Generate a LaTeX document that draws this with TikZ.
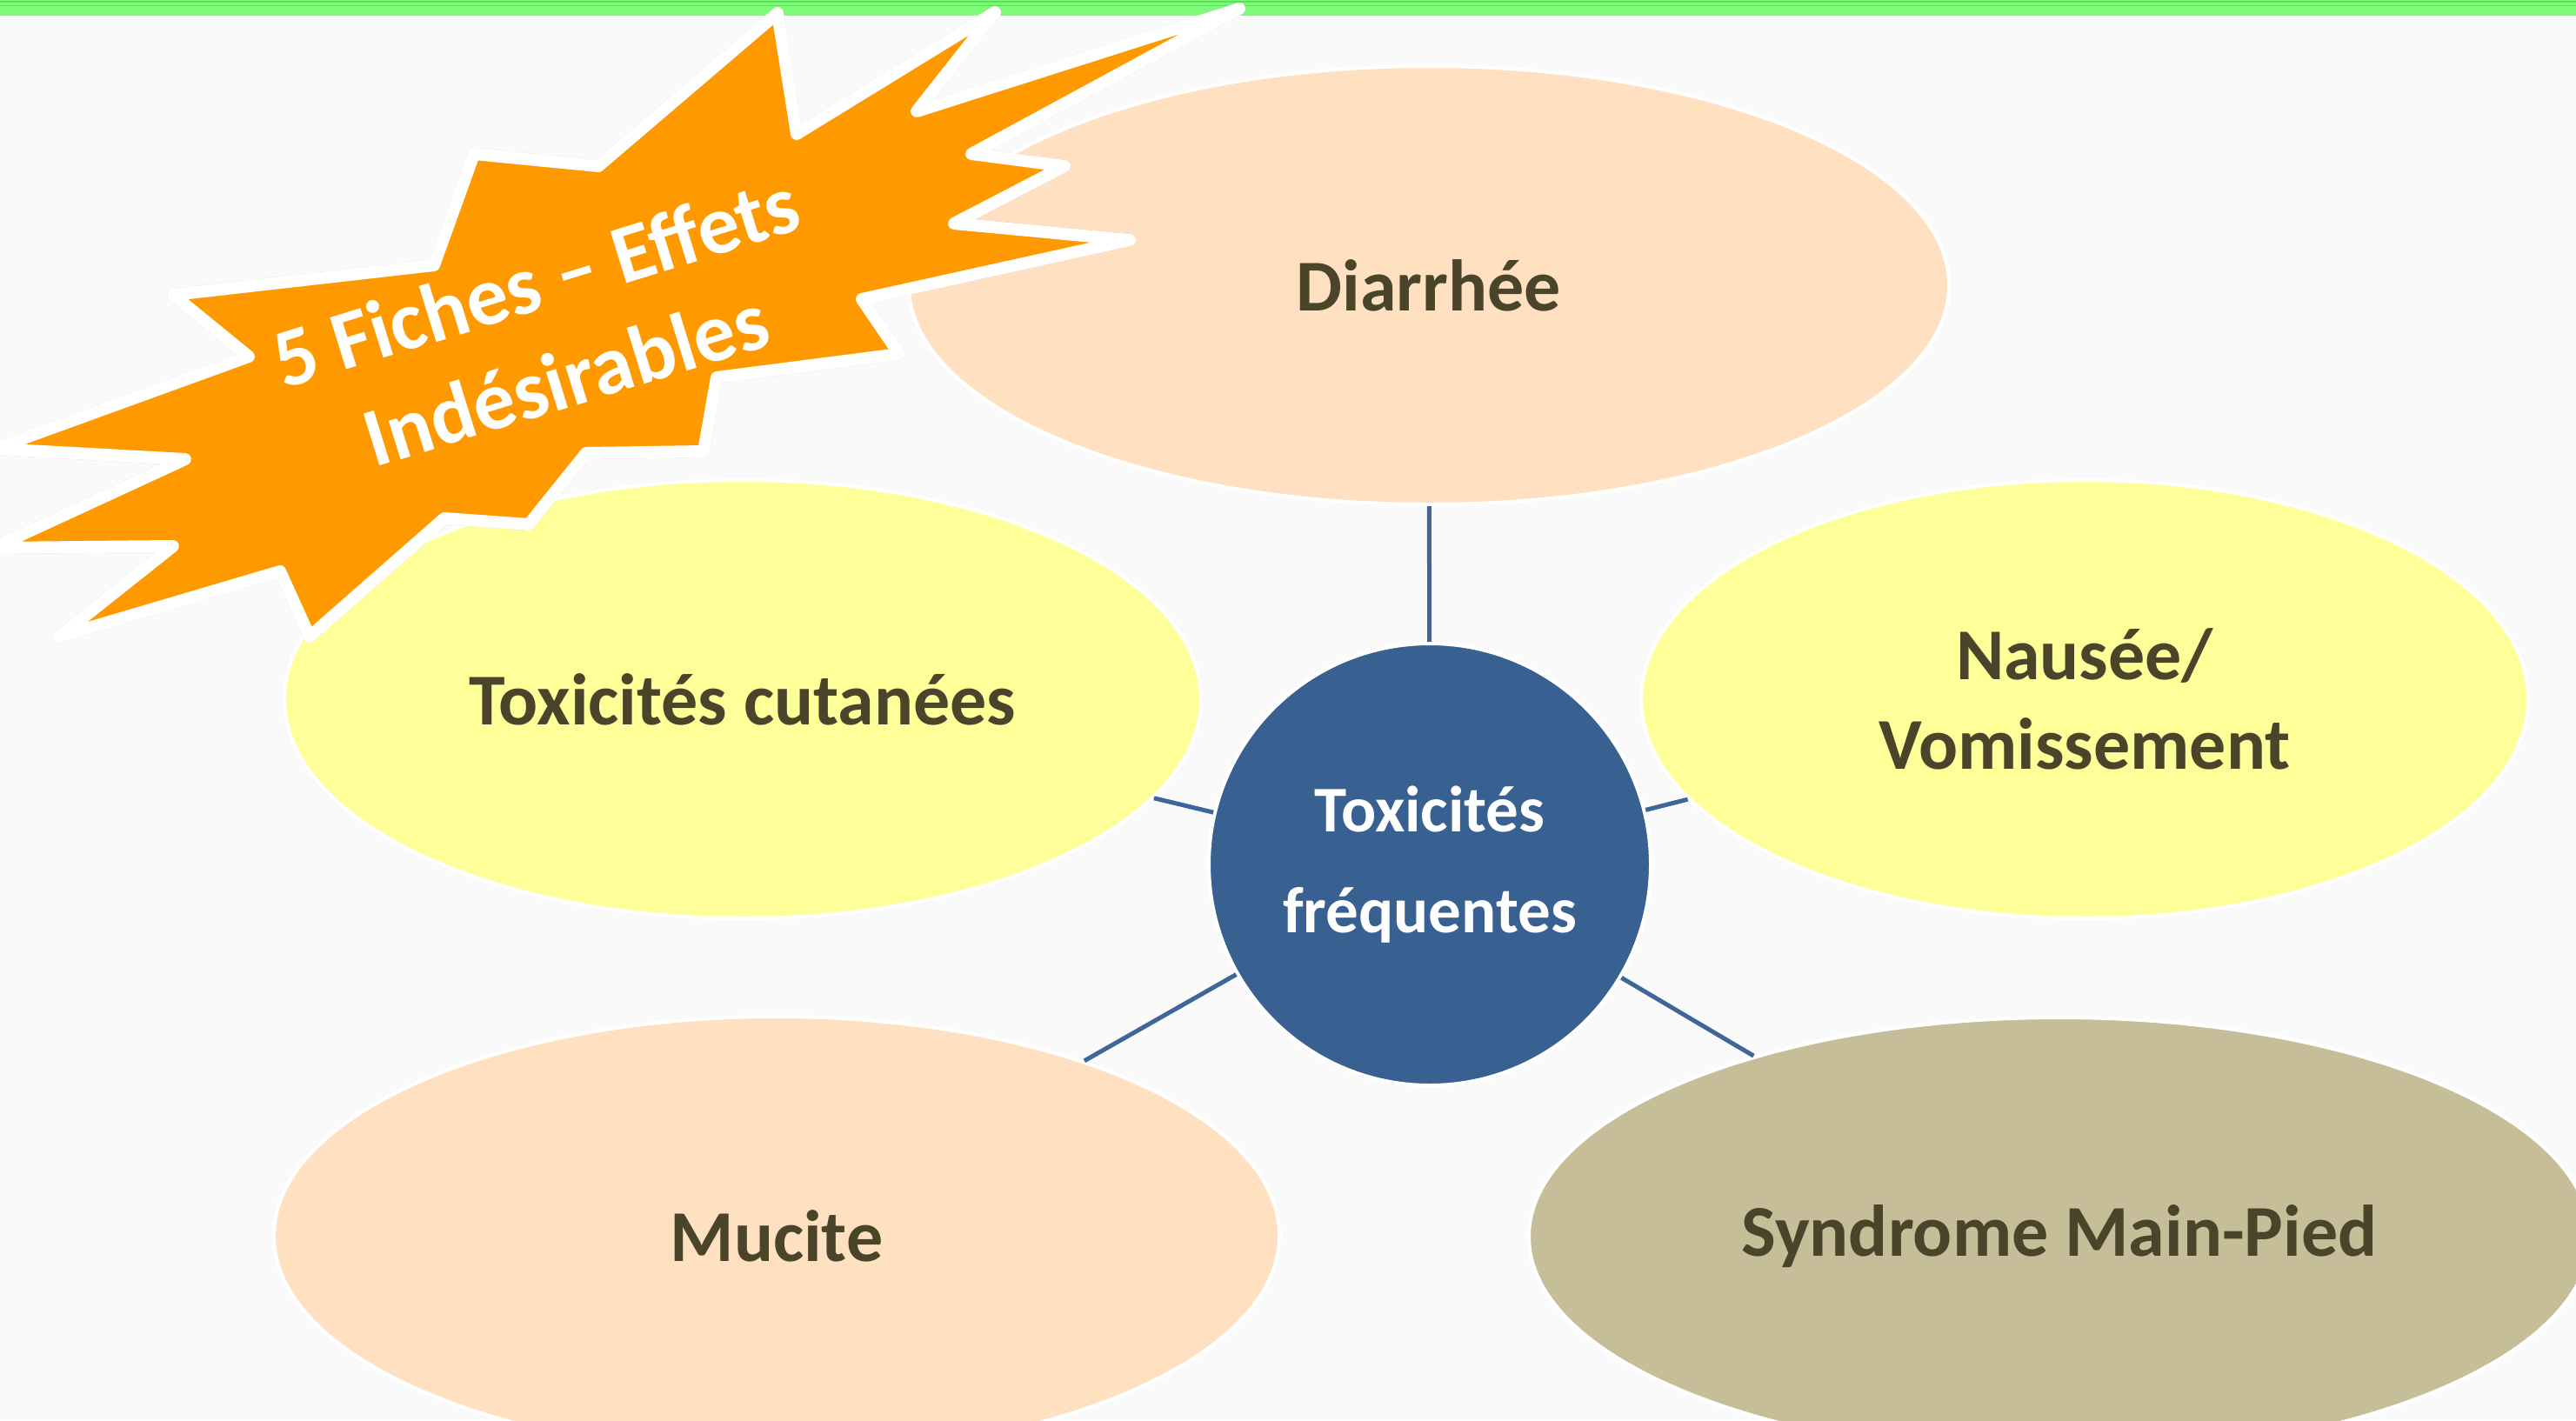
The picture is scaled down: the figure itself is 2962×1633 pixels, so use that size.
\documentclass[tikz,border=0pt]{standalone}
\usepackage{fontspec}
\setmainfont{Carlito}
\usetikzlibrary{shapes.geometric}
\definecolor{bgc}{RGB}{250,250,250}
\definecolor{barc}{RGB}{124,252,118}
\definecolor{barline}{RGB}{96,220,92}
\definecolor{peach}{RGB}{255,224,193}
\definecolor{paleyellow}{RGB}{255,255,153}
\definecolor{khaki}{RGB}{198,190,153}
\definecolor{hubblue}{RGB}{56,97,146}
\definecolor{linkblue}{RGB}{62,102,152}
\definecolor{labeltext}{RGB}{74,68,42}
\definecolor{burstorange}{RGB}{255,153,0}
\tikzset{
  leaf/.style={ellipse, draw=white, line width=4pt, inner sep=0pt, align=center,
    text=labeltext, font=\fontsize{84}{103}\selectfont\bfseries},
  hub/.style={circle, draw=white, line width=4pt, fill=hubblue, inner sep=0pt,
    minimum size=508pt, align=center, text=white,
    font=\fontsize{75}{116}\selectfont\bfseries},
  conn/.style={draw=linkblue, line width=5pt},
  burstshape/.style={insert path={(894,15) -- (916,154) -- (1144,14) -- (1054,128)
    -- (1425,10) -- (1117,177) -- (1224,191) -- (1097,257) -- (1299,276)
    -- (991,344) -- (1034,407) -- (824,434) -- (809,519) -- (674,521)
    -- (608,603) -- (511,596) -- (356,732) -- (322,657) -- (68,732)
    -- (199,628) -- (-8,630) -- (213,528) -- (-6,516) -- (286,410)
    -- (199,339) -- (499,305) -- (545,177) -- (688,191) -- cycle}},
  bursttext/.style={rotate=17.2, anchor=center, inner sep=0pt, text=white,
    align=center, font=\fontsize{96}{117}\selectfont\bfseries}
}
\begin{document}
\begin{tikzpicture}[x=1pt,y=-1pt]
\useasboundingbox (0,0) rectangle (2962,1633);
\clip (0,0) rectangle (2962,1633);
\fill[bgc] (0,0) rectangle (2962,1633);
% top bar
\fill[barc] (0,0) rectangle (2962,18);
\draw[barline, line width=1.5pt] (0,2) -- (2962,2);
\draw[barline, line width=1.5pt] (0,6.5) -- (2962,6.5);

% leaves
\node[leaf, fill=peach, minimum width=1196pt, minimum height=504pt] (diar) at (1643,328) {Diarrhée};
\node[leaf, fill=paleyellow, minimum width=1054pt, minimum height=504pt] (cut) at (854,804) {Toxicités cutanées};
\node[leaf, fill=paleyellow, minimum width=1020pt, minimum height=504pt] (naus) at (2397,804) {Nausée/\\Vomissement};
\node[leaf, fill=peach, minimum width=1156pt, minimum height=504pt] (muc) at (893,1421) {Mucite};
\node[leaf, fill=khaki, minimum width=1220pt, minimum height=504pt] (smp) at (2368,1422) {Syndrome Main-Pied};

% hub
\node[hub] (hub) at (1644,994) {Toxicités\\fréquentes};

% connectors
\draw[conn] (hub) -- (diar);
\draw[conn] (hub) -- (cut);
\draw[conn] (hub) -- (naus);
\draw[conn] (hub) -- (muc);
\draw[conn] (hub) -- (smp);

% starburst banner
\path[burstshape, fill=black, draw=black, line width=14pt, line join=round,
  opacity=0.18, shift={(5,6)}];
\path[burstshape, fill=burstorange, draw=white, line width=14pt, line join=round];
\node[bursttext] (title) at (633,379) {5 Fiches – Effets\\Indésirables};
\end{tikzpicture}
\end{document}
